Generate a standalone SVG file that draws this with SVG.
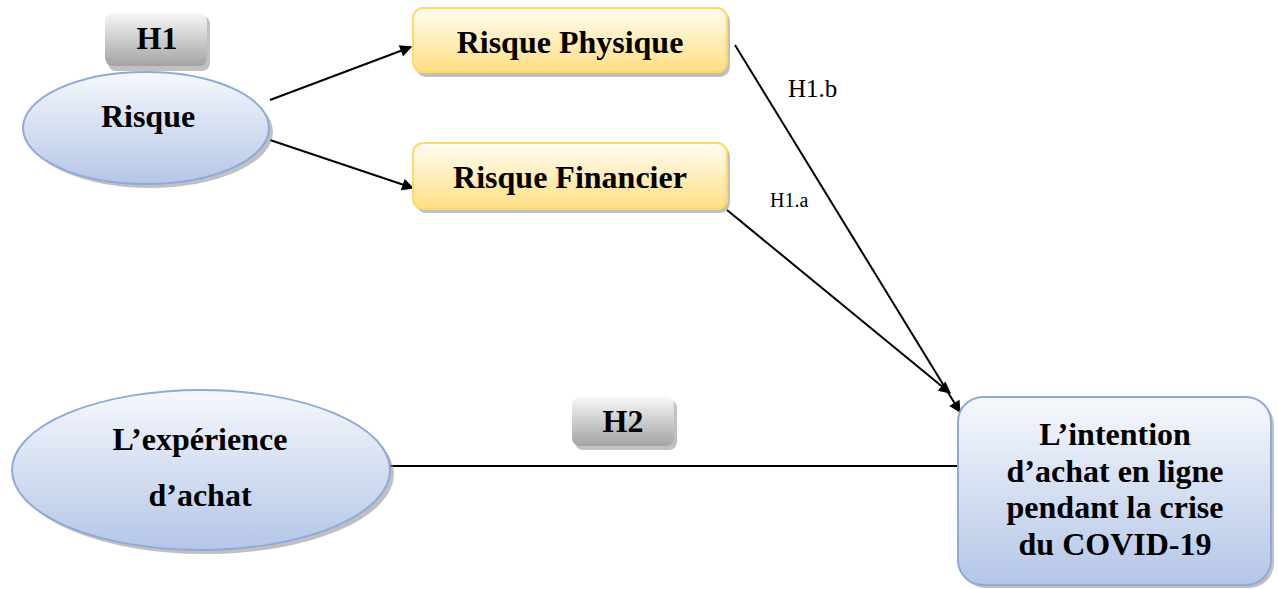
<svg xmlns="http://www.w3.org/2000/svg" width="1278" height="589" viewBox="0 0 1278 589">
<defs>
<linearGradient id="gBlue" x1="0" y1="0" x2="0" y2="1">
<stop offset="0" stop-color="#f6f8fc"/><stop offset="1" stop-color="#b4c6e7"/>
</linearGradient>
<linearGradient id="gYel" x1="0" y1="0" x2="0" y2="1">
<stop offset="0" stop-color="#fffcf2"/><stop offset="1" stop-color="#ffdf85"/>
</linearGradient>
<linearGradient id="gGray" x1="0" y1="0" x2="0" y2="1">
<stop offset="0" stop-color="#f7f7f7"/><stop offset="1" stop-color="#a3a3a3"/>
</linearGradient>
<marker id="arr" viewBox="0 0 10 10" refX="9" refY="5" markerWidth="6" markerHeight="6" markerUnits="userSpaceOnUse" orient="auto" style="overflow:visible">
<path d="M0,0 L10,5 L0,10 z" fill="#000" transform="scale(2) translate(-4.5,-2.5)"/>
</marker>
</defs>
<style>
.t{font-family:'Liberation Serif','DejaVu Serif',serif;font-weight:bold;font-size:32px;fill:#000;text-anchor:middle}
.l{font-family:'Liberation Serif','DejaVu Serif',serif;fill:#000}
.sh{fill:#8c8c8c;opacity:0.55}
.blue{fill:url(#gBlue);stroke:#8eaadb;stroke-width:2}
.yel{fill:url(#gYel);stroke:#ffd966;stroke-width:2}
.gray{fill:url(#gGray);stroke:none}
.c{stroke:#000;stroke-width:2;fill:none}
</style>
<g id="connectors">
<line class="c" x1="270" y1="100" x2="411" y2="47" marker-end="url(#arr)"/>
<line class="c" x1="270" y1="140" x2="413" y2="188" marker-end="url(#arr)"/>
<line class="c" x1="735" y1="45" x2="960" y2="412" marker-end="url(#arr)"/>
<line class="c" x1="727" y1="210" x2="950" y2="393" marker-end="url(#arr)"/>
<line class="c" x1="390" y1="466" x2="958" y2="466"/>
<text class="l" x="788" y="97" font-size="25">H1.b</text>
<text class="l" x="770" y="207" font-size="20">H1.a</text>
</g>
<g id="h1">
<rect class="sh" x="108" y="16" width="102" height="55" rx="8"/>
<rect class="gray" x="105" y="13" width="102" height="53" rx="8"/>
<text class="t" x="157" y="49">H1</text>
</g>
<g id="risque">
<ellipse class="sh" cx="150" cy="132" rx="123" ry="56"/>
<ellipse class="blue" cx="146" cy="128" rx="123" ry="56"/>
<text class="t" x="148" y="127">Risque</text>
</g>
<g id="physique">
<rect class="sh" x="416" y="11" width="314" height="66" rx="10"/>
<rect class="yel" x="413" y="8" width="314" height="64" rx="10"/>
<text class="t" x="570" y="53">Risque Physique</text>
</g>
<g id="financier">
<rect class="sh" x="416" y="146" width="314" height="67" rx="10"/>
<rect class="yel" x="413" y="143" width="314" height="66" rx="10"/>
<text class="t" x="570" y="188">Risque Financier</text>
</g>
<g id="experience">
<ellipse class="sh" cx="205" cy="474" rx="189" ry="80"/>
<ellipse class="blue" cx="201" cy="470" rx="189" ry="80"/>
<text class="t" x="200" y="450">L’expérience</text>
<text class="t" x="200" y="506">d’achat</text>
</g>
<g id="h2">
<rect class="sh" x="575" y="400" width="102" height="50" rx="8"/>
<rect class="gray" x="572" y="397" width="102" height="49" rx="8"/>
<text class="t" x="623" y="432">H2</text>
</g>
<g id="intention">
<rect class="sh" x="961" y="400" width="313" height="188" rx="25"/>
<rect class="blue" x="958" y="397" width="313" height="188" rx="25"/>
<text class="t" x="1115" y="445">L’intention</text>
<text class="t" x="1115" y="482">d’achat en ligne</text>
<text class="t" x="1115" y="518">pendant la crise</text>
<text class="t" x="1115" y="555">du COVID-19</text>
</g>
</svg>
